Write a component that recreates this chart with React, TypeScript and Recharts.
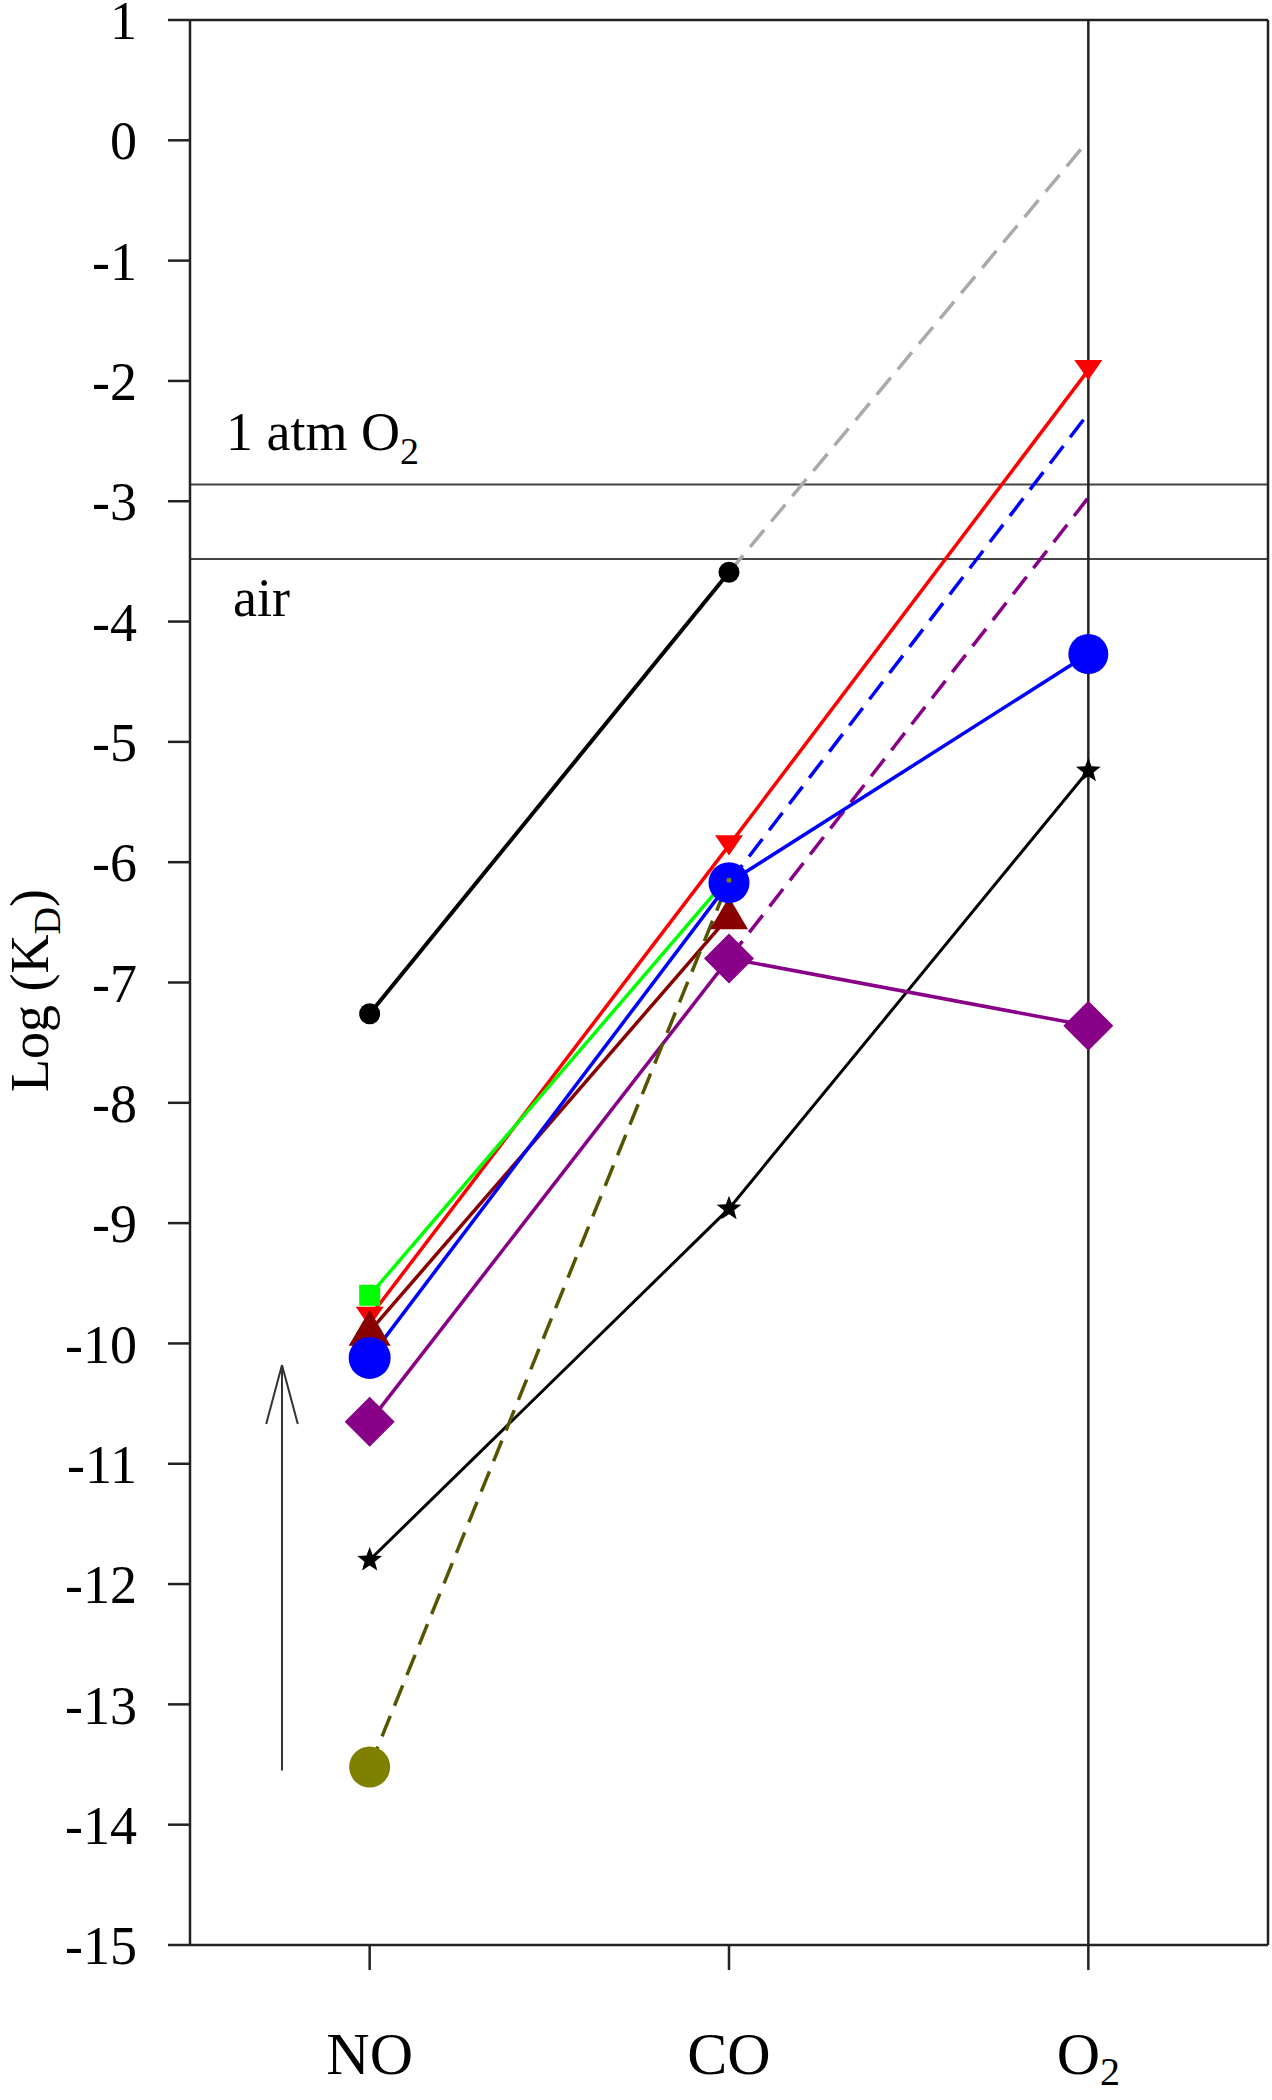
import React from 'react';
import { LineChart, Line, XAxis, YAxis, ReferenceLine, Label } from 'recharts';

// ligands on the x axis
const categories = ['NO', 'CO', 'O2'];
const categoryX = [1, 2, 3];
const yTicks = [1, 0, -1, -2, -3, -4, -5, -6, -7, -8, -9, -10, -11, -12, -13, -14, -15];

// log(KD) per ligand (NO, CO, O2), null = no point
const blackCircle = [-7.26, -3.59, null];
const grayEstimate = [null, -3.59, 0.0];
const redTriangle = [-9.78, -5.86, -1.91];
const greenSquare = [-9.6, -6.12, null];
const blueCircle = [-10.12, -6.17, -4.27];
const blueEstimate = [null, -6.17, -2.27];
const darkRedTriangle = [-9.9, -6.45, null];
const purpleDiamond = [-10.65, -6.8, -7.36];
const purpleEstimate = [null, -6.8, -2.97];
const blackStar = [-11.8, -8.88, -5.24];
const oliveCircle = [-13.52, -6.15, null];

// reference levels
const atmO2Level = -2.86;
const airLevel = -3.48;

// arrow (x in category units, y in log units)
const arrowX = 0.756;
const arrowBottom = -13.55;
const arrowTip = -10.18;
const arrowWingY = -10.67;
const arrowWingDx = 0.044;

const FONT = '"Liberation Serif", "Times New Roman", serif';

const toPoints = (vals: (number | null)[]) =>
    vals.map((v, i) => ({ x: categoryX[i], y: v }));

type Shape = 'circle' | 'square' | 'triDown' | 'triUp' | 'diamond' | 'star';

const drawShape = (shape: Shape, cx: number, cy: number, s: number, color: string, key: string) => {
    switch (shape) {
        case 'circle':
            return <circle key={key} cx={cx} cy={cy} r={s} fill={color} />;
        case 'square':
            return <rect key={key} x={cx - s} y={cy - s} width={s * 2} height={s * 2} fill={color} />;
        case 'triDown': {
            const h = s * 1.45;
            return <path key={key} d={`M${cx - s},${cy - h / 2}L${cx + s},${cy - h / 2}L${cx},${cy + h / 2}Z`} fill={color} />;
        }
        case 'triUp': {
            const h = s * 1.7;
            return <path key={key} d={`M${cx},${cy - h * 0.6}L${cx + s},${cy + h * 0.4}L${cx - s},${cy + h * 0.4}Z`} fill={color} />;
        }
        case 'diamond':
            return <path key={key} d={`M${cx},${cy - s}L${cx + s},${cy}L${cx},${cy + s}L${cx - s},${cy}Z`} fill={color} />;
        case 'star': {
            let d = '';
            for (let k = 0; k < 10; k++) {
                const r = k % 2 === 0 ? s : s * 0.42;
                const a = -Math.PI / 2 + (k * Math.PI) / 5;
                d += `${k === 0 ? 'M' : 'L'}${cx + r * Math.cos(a)},${cy + r * Math.sin(a)}`;
            }
            return <path key={key} d={d + 'Z'} fill={color} />;
        }
    }
};

const marker = (name: string, shape: Shape, color: string, sizes: number[]) => (props: any) => {
    const { cx, cy, index, payload } = props;
    const key = `${name}-${index}`;
    if (cx == null || cy == null || payload == null || payload.y == null) return <g key={key} />;
    return drawShape(shape, cx, cy, sizes[index] ?? sizes[0], color, key);
};

const XTick = (props: any) => {
    const { x, y, payload } = props;
    const label = categories[categoryX.indexOf(payload.value)];
    if (label === 'O2') {
        return (
            <text x={x} y={y + 102} textAnchor="middle" fontFamily={FONT} fontSize={60} fill="#000">
                O<tspan fontSize={40} dy={11}>2</tspan>
            </text>
        );
    }
    return (
        <text x={x} y={y + 102} textAnchor="middle" fontFamily={FONT} fontSize={60} fill="#000">
            {label}
        </text>
    );
};

const YTitle = (props: any) => {
    const { viewBox } = props;
    const x = viewBox.x + 48;
    const y = viewBox.y + viewBox.height / 2 + 8;
    return (
        <text x={x} y={y} transform={`rotate(-90 ${x} ${y})`} textAnchor="middle" fontFamily={FONT} fontSize={54} fill="#000">
            Log (K<tspan fontSize={38} dy={12}>D</tspan><tspan dy={-12}>)</tspan>
        </text>
    );
};

const AtmLabel = (props: any) => {
    const { viewBox } = props;
    return (
        <text x={viewBox.x + 36} y={viewBox.y - 34} fontFamily={FONT} fontSize={54} fill="#000">
            1 atm O<tspan fontSize={38} dy={14}>2</tspan>
        </text>
    );
};

const AirLabel = (props: any) => {
    const { viewBox } = props;
    return (
        <text x={viewBox.x + 43} y={viewBox.y + 57} fontFamily={FONT} fontSize={54} fill="#000">
            air
        </text>
    );
};

const App: React.FC = () => {
    const axisColor = '#222';
    const dash = '22 11';

    return (
        <div style={{ position: 'absolute', left: 0, top: 0, width: 1272, height: 2100, background: '#fff' }}>
            <LineChart width={1272} height={2100} margin={{ top: 20, right: 4, bottom: 125, left: 0 }}>
                <XAxis
                    type="number"
                    dataKey="x"
                    domain={[0.5, 3.5]}
                    ticks={categoryX}
                    tickSize={25}
                    tick={<XTick />}
                    axisLine={{ stroke: axisColor, strokeWidth: 2.5 }}
                    tickLine={{ stroke: axisColor, strokeWidth: 2.5 }}
                    allowDataOverflow
                />
                <YAxis
                    type="number"
                    dataKey="y"
                    width={190}
                    domain={[-15, 1]}
                    ticks={yTicks}
                    interval={0}
                    tickSize={22}
                    tickMargin={31}
                    tick={{ fill: '#000', fontSize: 54, fontFamily: FONT }}
                    axisLine={{ stroke: axisColor, strokeWidth: 2.5 }}
                    tickLine={{ stroke: axisColor, strokeWidth: 2.5 }}
                    allowDataOverflow
                >
                    <Label content={<YTitle />} />
                </YAxis>

                {/* 1 atm O2 and air levels */}
                <ReferenceLine y={atmO2Level} stroke="#444" strokeWidth={2} label={<AtmLabel />} />
                <ReferenceLine y={airLevel} stroke="#444" strokeWidth={2} label={<AirLabel />} />

                {/* arrow */}
                <ReferenceLine segment={[{ x: arrowX, y: arrowBottom }, { x: arrowX, y: arrowTip }]} stroke="#333" strokeWidth={2} />
                <ReferenceLine segment={[{ x: arrowX - arrowWingDx, y: arrowWingY }, { x: arrowX, y: arrowTip }]} stroke="#333" strokeWidth={2} />
                <ReferenceLine segment={[{ x: arrowX + arrowWingDx, y: arrowWingY }, { x: arrowX, y: arrowTip }]} stroke="#333" strokeWidth={2} />

                <Line data={toPoints(grayEstimate)} dataKey="y" type="linear" stroke="#aaaaaa" strokeWidth={3.5} strokeDasharray={dash} dot={false} isAnimationActive={false} />
                <Line data={toPoints(blackCircle)} dataKey="y" type="linear" stroke="#000" strokeWidth={4} dot={marker('bc', 'circle', '#000', [10.5])} isAnimationActive={false} />
                <Line data={toPoints(blackStar)} dataKey="y" type="linear" stroke="#000" strokeWidth={3} dot={marker('st', 'star', '#000', [13])} isAnimationActive={false} />
                <Line data={toPoints(purpleEstimate)} dataKey="y" type="linear" stroke="#880088" strokeWidth={3.5} strokeDasharray={dash} dot={false} isAnimationActive={false} />
                <Line data={toPoints(purpleDiamond)} dataKey="y" type="linear" stroke="#880088" strokeWidth={3.5} dot={marker('pd', 'diamond', '#880088', [25])} isAnimationActive={false} />
                <Line data={toPoints(blueEstimate)} dataKey="y" type="linear" stroke="#0000ff" strokeWidth={3.5} strokeDasharray={dash} dot={false} isAnimationActive={false} />
                <Line data={toPoints(redTriangle)} dataKey="y" type="linear" stroke="#ff0000" strokeWidth={3.5} dot={marker('rt', 'triDown', '#ff0000', [14])} isAnimationActive={false} />
                <Line data={toPoints(greenSquare)} dataKey="y" type="linear" stroke="#00ff00" strokeWidth={3.5} dot={marker('gs', 'square', '#00ff00', [10.5])} isAnimationActive={false} />
                <Line data={toPoints(darkRedTriangle)} dataKey="y" type="linear" stroke="#880000" strokeWidth={3.5} dot={marker('dt', 'triUp', '#880000', [21, 19])} isAnimationActive={false} />
                <Line data={toPoints(blueCircle)} dataKey="y" type="linear" stroke="#0000ff" strokeWidth={3.5} dot={marker('blc', 'circle', '#0000ff', [21, 20.5, 20])} isAnimationActive={false} />
                <Line data={toPoints(oliveCircle)} dataKey="y" type="linear" stroke="#555500" strokeWidth={3.5} strokeDasharray={dash} dot={marker('ol', 'circle', '#808000', [20.5, 2.5])} isAnimationActive={false} />

                {/* O2 column line and frame */}
                <ReferenceLine x={3} stroke={axisColor} strokeWidth={2.5} />
                <ReferenceLine y={1} stroke={axisColor} strokeWidth={2.5} />
                <ReferenceLine x={3.5} stroke={axisColor} strokeWidth={2.5} />
            </LineChart>
        </div>
    );
};

export default App;
